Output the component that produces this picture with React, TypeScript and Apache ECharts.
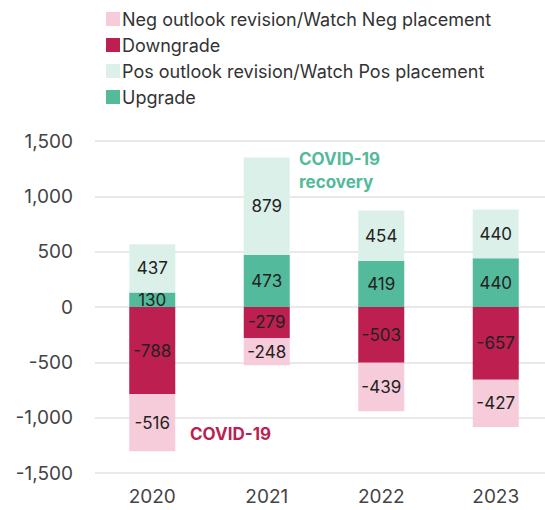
import React, { useEffect, useRef } from "react";
import * as echarts from "echarts";

const years = ["2020", "2021", "2022", "2023"];
const negOutlook = [-516, -248, -439, -427];
const downgrade = [-788, -279, -503, -657];
const posOutlook = [437, 879, 454, 440];
const upgrade = [130, 473, 419, 440];
const yTicks = { min: -1500, max: 1500, interval: 500 };

const C_NEG = "#f6ccda";
const C_DOWN = "#bc1f50";
const C_POS = "#dcf0ea";
const C_UP = "#53ba9b";
const FONT = "Inter";

export default function App() {
  const ref = useRef<HTMLDivElement>(null);
  useEffect(() => {
    document.body.style.margin = "0";
    document.body.style.overflow = "hidden";
    const chart = echarts.init(ref.current!, undefined, { renderer: "svg" });
    const label = {
      show: true,
      position: "inside",
      color: "#222",
      fontSize: 17,
      fontFamily: FONT,
    };
    const mk = (name: string, data: number[], color: string) => ({
      name,
      type: "bar",
      stack: "total",
      data,
      barWidth: 46,
      itemStyle: { color },
      label,
    });
    chart.setOption({
      animation: false,
      textStyle: { fontFamily: FONT },
      legend: {
        orient: "vertical",
        left: 101,
        top: 5,
        itemWidth: 14,
        itemHeight: 14,
        itemGap: 8,
        icon: "rect",
        textStyle: { fontSize: 18, color: "#333", fontFamily: FONT, lineHeight: 17, padding: [0, 0, 0, -3] },
        data: [
          "Neg outlook revision/Watch Neg placement",
          "Downgrade",
          "Pos outlook revision/Watch Pos placement",
          "Upgrade",
        ],
      },
      grid: { left: 95, right: 7, top: 141, bottom: 37 },
      xAxis: {
        type: "category",
        data: years,
        axisLine: { show: false },
        axisTick: { show: false },
        axisLabel: { color: "#444", fontSize: 19, margin: 14, fontFamily: FONT },
      },
      yAxis: {
        type: "value",
        min: yTicks.min,
        max: yTicks.max,
        interval: yTicks.interval,
        axisLabel: {
          color: "#444",
          fontSize: 19,
          margin: 22,
          fontFamily: FONT,
          formatter: (v: number) => v.toLocaleString("en-US"),
        },
        splitLine: { lineStyle: { color: "#e2e2e2", width: 1.5 } },
      },
      series: [
        mk("Upgrade", upgrade, C_UP),
        mk("Pos outlook revision/Watch Pos placement", posOutlook, C_POS),
        mk("Downgrade", downgrade, C_DOWN),
        mk("Neg outlook revision/Watch Neg placement", negOutlook, C_NEG),
      ],
      graphic: [
        {
          type: "text",
          left: 299,
          top: 147,
          style: {
            text: "COVID-19\nrecovery",
            fill: C_UP,
            font: `bold 17px ${FONT}`,
            lineHeight: 23,
          },
        },
        {
          type: "text",
          left: 190,
          top: 425,
          style: {
            text: "COVID-19",
            fill: C_DOWN,
            font: `bold 17px ${FONT}`,
          },
        },
      ],
    });
    return () => chart.dispose();
  }, []);
  return <div ref={ref} style={{ width: 560, height: 510 }} />;
}
